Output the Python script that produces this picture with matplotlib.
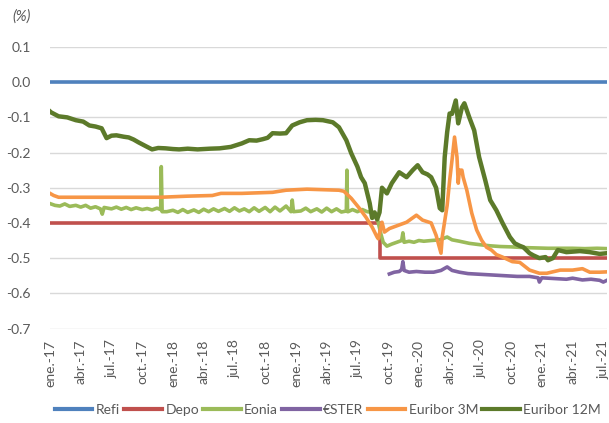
import matplotlib
matplotlib.use("Agg")
import matplotlib.pyplot as plt
import numpy as np

# ---------------- data (time as decimal year) ----------------
tick_labels = ["ene.-17", "abr.-17", "jul.-17", "oct.-17", "ene.-18", "abr.-18", "jul.-18",
               "oct.-18", "ene.-19", "abr.-19", "jul.-19", "oct.-19", "ene.-20", "abr.-20",
               "jul.-20", "oct.-20", "ene.-21", "abr.-21", "jul.-21"]
y_ticks = [0.1, 0.0, -0.1, -0.2, -0.3, -0.4, -0.5, -0.6, -0.7]

refi_t = [2017.0, 2021.53]
refi_v = [0.0, 0.0]

depo_t = [2017.0, 2019.68, 2021.53]
depo_v = [-0.40, -0.50, -0.50]

eonia_t = [2017.00, 2017.04, 2017.08, 2017.12, 2017.16, 2017.21, 2017.25, 2017.29, 2017.33,
           2017.37, 2017.41, 2017.425, 2017.44, 2017.50, 2017.54, 2017.58, 2017.62, 2017.66,
           2017.70, 2017.75, 2017.79, 2017.83, 2017.87, 2017.900, 2017.905, 2017.912, 2017.95,
           2018.00, 2018.04, 2018.08, 2018.12, 2018.17, 2018.21, 2018.25, 2018.29, 2018.33,
           2018.37, 2018.42, 2018.46, 2018.50, 2018.54, 2018.58, 2018.62, 2018.66, 2018.70,
           2018.75, 2018.79, 2018.83, 2018.87, 2018.92, 2018.96, 2018.97, 2018.98, 2019.04,
           2019.08, 2019.12, 2019.17, 2019.21, 2019.25, 2019.29, 2019.33, 2019.37, 2019.41,
           2019.415, 2019.42, 2019.425, 2019.46, 2019.50, 2019.54, 2019.58, 2019.62, 2019.66,
           2019.69, 2019.71, 2019.74, 2019.78, 2019.82, 2019.86, 2019.87, 2019.88, 2019.92,
           2019.96, 2020.00, 2020.04, 2020.10, 2020.17, 2020.23, 2020.27, 2020.33, 2020.41,
           2020.50, 2020.58, 2020.66, 2020.75, 2020.85, 2020.95, 2021.05, 2021.15, 2021.25,
           2021.35, 2021.45, 2021.53]
eonia_v = [-0.345, -0.350, -0.352, -0.346, -0.353, -0.350, -0.355, -0.350, -0.358,
           -0.354, -0.360, -0.375, -0.356, -0.360, -0.355, -0.361, -0.356, -0.362,
           -0.357, -0.362, -0.359, -0.363, -0.358, -0.362, -0.240, -0.368, -0.368,
           -0.364, -0.370, -0.362, -0.370, -0.363, -0.370, -0.361, -0.368, -0.360,
           -0.367, -0.359, -0.367, -0.357, -0.366, -0.360, -0.368, -0.357, -0.367,
           -0.356, -0.368, -0.355, -0.366, -0.352, -0.368, -0.335, -0.368, -0.366,
           -0.358, -0.368, -0.360, -0.369, -0.358, -0.368, -0.360, -0.369, -0.366,
           -0.250, -0.368, -0.368, -0.362, -0.368, -0.362, -0.368, -0.370, -0.385,
           -0.430, -0.455, -0.466, -0.460, -0.455, -0.450, -0.428, -0.455, -0.452,
           -0.455, -0.450, -0.452, -0.450, -0.448, -0.440, -0.448, -0.452, -0.458,
           -0.462, -0.465, -0.467, -0.468, -0.470, -0.471, -0.472, -0.472, -0.472,
           -0.473, -0.472, -0.473]

ester_t = [2019.76, 2019.80, 2019.84, 2019.86, 2019.87, 2019.88, 2019.92, 2019.98, 2020.05,
           2020.12, 2020.18, 2020.23, 2020.27, 2020.33, 2020.40, 2020.50, 2020.60, 2020.70,
           2020.80, 2020.90, 2020.97, 2020.98, 2021.00, 2021.10, 2021.20, 2021.25, 2021.33,
           2021.40, 2021.47, 2021.50, 2021.53]
ester_v = [-0.545, -0.540, -0.538, -0.532, -0.510, -0.535, -0.540, -0.538, -0.540,
           -0.540, -0.535, -0.525, -0.535, -0.540, -0.544, -0.546, -0.548, -0.550,
           -0.552, -0.552, -0.556, -0.568, -0.556, -0.558, -0.560, -0.557, -0.562,
           -0.560, -0.563, -0.568, -0.563]

eur3m_t = [2017.00, 2017.03, 2017.07, 2017.50, 2017.90, 2018.11, 2018.32, 2018.39, 2018.56,
           2018.81, 2018.92, 2019.09, 2019.35, 2019.39, 2019.45, 2019.52, 2019.57, 2019.62,
           2019.66, 2019.67, 2019.70, 2019.72, 2019.76, 2019.83, 2019.90, 2019.98, 2020.03,
           2020.10, 2020.14, 2020.18, 2020.19, 2020.23, 2020.25, 2020.27, 2020.29, 2020.31,
           2020.32, 2020.33, 2020.35, 2020.36, 2020.39, 2020.43, 2020.47, 2020.51, 2020.55,
           2020.59, 2020.63, 2020.68, 2020.76, 2020.82, 2020.90, 2020.98, 2021.04, 2021.15,
           2021.25, 2021.33, 2021.39, 2021.47, 2021.53]
eur3m_v = [-0.316, -0.322, -0.327, -0.327, -0.327, -0.324, -0.322, -0.316, -0.316,
           -0.313, -0.307, -0.304, -0.307, -0.310, -0.330, -0.360, -0.384, -0.412,
           -0.440, -0.445, -0.398, -0.426, -0.416, -0.407, -0.398, -0.378, -0.392,
           -0.400, -0.435, -0.486, -0.440, -0.350, -0.280, -0.220, -0.156, -0.213,
           -0.287, -0.250, -0.250, -0.270, -0.307, -0.372, -0.420, -0.449, -0.469,
           -0.477, -0.490, -0.497, -0.510, -0.512, -0.534, -0.543, -0.543, -0.534,
           -0.534, -0.530, -0.540, -0.540, -0.539]

eur12m_t = [2017.00, 2017.01, 2017.07, 2017.14, 2017.21, 2017.27, 2017.32, 2017.37, 2017.42,
            2017.46, 2017.50, 2017.54, 2017.60, 2017.64, 2017.68, 2017.72, 2017.78, 2017.83,
            2017.88, 2017.94, 2018.00, 2018.05, 2018.12, 2018.20, 2018.30, 2018.38, 2018.47,
            2018.56, 2018.62, 2018.68, 2018.73, 2018.77, 2018.81, 2018.87, 2018.92, 2018.97,
            2019.03, 2019.09, 2019.16, 2019.22, 2019.30, 2019.35, 2019.41, 2019.45, 2019.50,
            2019.53, 2019.56, 2019.60, 2019.62, 2019.64, 2019.66, 2019.68, 2019.70, 2019.74,
            2019.78, 2019.84, 2019.90, 2019.95, 2019.99, 2020.03, 2020.07, 2020.10, 2020.14,
            2020.17, 2020.19, 2020.21, 2020.23, 2020.25, 2020.27, 2020.30, 2020.32, 2020.35,
            2020.37, 2020.41, 2020.45, 2020.49, 2020.54, 2020.58, 2020.63, 2020.68, 2020.74,
            2020.78, 2020.82, 2020.85, 2020.90, 2020.93, 2020.98, 2021.03, 2021.05, 2021.09,
            2021.13, 2021.20, 2021.31, 2021.39, 2021.47, 2021.53]
eur12m_v = [-0.083, -0.086, -0.097, -0.100, -0.108, -0.112, -0.123, -0.126, -0.131,
            -0.159, -0.152, -0.151, -0.155, -0.157, -0.163, -0.171, -0.182, -0.191,
            -0.187, -0.188, -0.190, -0.191, -0.189, -0.191, -0.189, -0.188, -0.184,
            -0.174, -0.165, -0.166, -0.162, -0.158, -0.145, -0.146, -0.145, -0.123,
            -0.114, -0.108, -0.107, -0.108, -0.114, -0.128, -0.165, -0.202, -0.240,
            -0.270, -0.287, -0.344, -0.386, -0.370, -0.390, -0.370, -0.300, -0.316,
            -0.287, -0.256, -0.270, -0.250, -0.236, -0.256, -0.262, -0.270, -0.300,
            -0.358, -0.364, -0.213, -0.142, -0.089, -0.090, -0.052, -0.117, -0.072,
            -0.060, -0.100, -0.137, -0.213, -0.279, -0.335, -0.364, -0.400, -0.440,
            -0.458, -0.465, -0.469, -0.486, -0.492, -0.500, -0.497, -0.506, -0.500,
            -0.477, -0.483, -0.480, -0.483, -0.488, -0.486]

series = [
    ("Refi", refi_t, refi_v, "#4F81BD", {}),
    ("Depo", depo_t, depo_v, "#C0504D", {"drawstyle": "steps-post"}),
    ("Eonia", eonia_t, eonia_v, "#9BBB59", {}),
    ("€STER", ester_t, ester_v, "#8064A2", {}),
    ("Euribor 3M", eur3m_t, eur3m_v, "#F79646", {}),
    ("Euribor 12M", eur12m_t, eur12m_v, "#5C7A2A", {}),
]

# ---------------- figure ----------------
plt.rcParams['font.family'] = ['Lato', 'DejaVu Sans']
W, H = 609, 423
fig = plt.figure(figsize=(W / 100, H / 100), dpi=100)
ax = fig.add_axes([50 / W, 1 - 328.5 / H, 557 / W, (328.5 - 47) / H])

for name, t, v, col, kw in series:
    lw = 3.2 if name == "Euribor 12M" else 2.6
    ax.plot(t, v, color=col, lw=lw, label=name, solid_joinstyle="round", **kw)

ax.set_ylim(-0.7, 0.1)
ax.set_yticks(y_ticks)
ax.set_yticklabels([f"{y:.1f}".replace("-0.0", "0.0") for y in y_ticks])
ax.set_xlim(2017.0, 2021.53)
xt = [2017.0 + i / 4 for i in range(len(tick_labels))]
ax.set_xticks(xt)
ax.set_xticklabels(tick_labels, rotation=90)
ax.tick_params(axis="both", length=0, labelsize=10, colors="#595959")
ax.tick_params(axis="y", pad=14)
ax.tick_params(axis="x", pad=8)
ax.grid(axis="y", color="#D9D9D9", lw=1)
ax.set_axisbelow(True)
for s in ax.spines.values():
    s.set_visible(False)

fig.text(12 / W, 1 - 17 / H, "(%)", fontsize=10.5, style="italic", color="#595959",
         va="center", ha="left")

leg = fig.legend(loc="center", bbox_to_anchor=(328 / W, 1 - 410 / H), ncol=6, frameon=False,
                 fontsize=10, handlelength=2.7, handletextpad=0.25, columnspacing=0.3,
                 labelcolor="#595959")
for line in leg.get_lines():
    line.set_linewidth(3)

fig.savefig("out.png", dpi=100)
